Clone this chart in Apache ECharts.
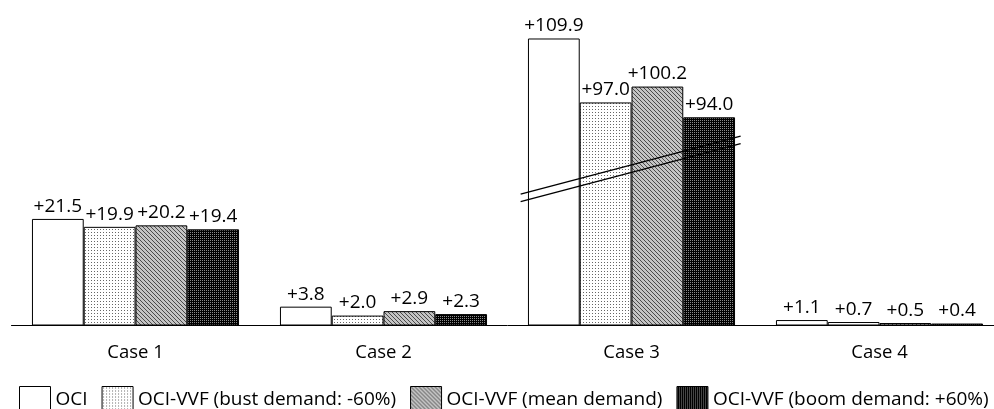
<!DOCTYPE html>
<html><head><meta charset="utf-8">
<script src="https://cdn.jsdelivr.net/npm/echarts@6/dist/echarts.min.js"></script>
<style>html,body{margin:0;padding:0;background:#fff;overflow:hidden;width:994px;height:409px}#c{width:1004px;height:409px}</style>
</head><body><div id="c"></div>
<script>
const categories = ['Case 1', 'Case 2', 'Case 3', 'Case 4'];
const seriesNames = ['OCI', 'OCI-VVF (bust demand: -60%)', 'OCI-VVF (mean demand)', 'OCI-VVF (boom demand: +60%)'];
const ociValues  = [21.5, 3.8, 109.9, 1.1];
const bustValues = [19.9, 2.0, 97.0, 0.7];
const meanValues = [20.2, 2.9, 100.2, 0.5];
const boomValues = [19.4, 2.3, 94.0, 0.4];
const breakStart = 32, breakEnd = 84;

function makePattern(size, bg, pts) {
  const c = document.createElement('canvas');
  c.width = size; c.height = size;
  const g = c.getContext('2d');
  g.fillStyle = bg; g.fillRect(0, 0, size, size);
  pts.forEach(p => { g.fillStyle = p[2]; g.fillRect(p[0], p[1], 1, 1); });
  return c;
}
const fills = [
  '#ffffff',
  { image: makePattern(3, '#ffffff', [[1, 1, '#666666']]), repeat: 'repeat' },
  { image: makePattern(4, '#c4c4c4', [[0, 0, '#4a4a4a'], [1, 1, '#4a4a4a'], [2, 2, '#4a4a4a'], [3, 3, '#4a4a4a']]), repeat: 'repeat' },
  { image: makePattern(2, '#000000', [[0, 0, '#8a8a8a']]), repeat: 'repeat' }
];
const FONT = '"Open Sans", sans-serif';
const allValues = [ociValues, bustValues, meanValues, boomValues];

const chart = echarts.init(document.getElementById('c'), null, { renderer: 'canvas' });
const option = {
  animation: false,
  backgroundColor: '#fff',
  textStyle: { fontFamily: FONT, color: '#000' },
  grid: { left: 11.5, top: 38, width: 992, height: 287.5, containLabel: false },
  legend: {
    left: 19, top: 386, padding: 0, width: 990, itemWidth: 31, itemHeight: 26, itemGap: 14, icon: 'rect',
    textStyle: { fontFamily: FONT, fontSize: 19, color: '#000' },
    itemStyle: { borderColor: '#000', borderWidth: 1 },
    data: seriesNames
  },
  xAxis: {
    type: 'category', data: categories,
    axisLine: { lineStyle: { color: '#000', width: 1 } },
    axisTick: { show: false },
    axisLabel: { fontFamily: FONT, fontSize: 18.5, color: '#000', margin: 18 }
  },
  yAxis: {
    type: 'value', min: 0, max: 110,
    breaks: [{ start: breakStart, end: breakEnd, gap: 0 }],
    breakArea: { show: false, itemStyle: { opacity: 0, color: 'transparent', borderColor: 'transparent' } },
    axisLine: { show: false }, axisTick: { show: false }, axisLabel: { show: false }, splitLine: { show: false }
  },
  series: seriesNames.map((name, i) => ({
    name, type: 'bar', data: allValues[i],
    barGap: '0%', barCategoryGap: '16.5%',
    itemStyle: { color: fills[i], borderColor: '#000', borderWidth: 1 },
    label: {
      show: true, position: 'top', distance: 3,
      fontFamily: FONT, fontSize: 19, color: '#000',
      formatter: p => '+' + p.value.toFixed(1)
    }
  }))
};
chart.setOption(option);

// break marks across Case 3
const cx = chart.convertToPixel({ xAxisIndex: 0 }, 'Case 3');
const band = 992 / categories.length;
const xL = cx - 0.447 * band, xR = cx + 0.44 * band;
const yL = chart.convertToPixel({ yAxisIndex: 0 }, 26.5);
const yR = chart.convertToPixel({ yAxisIndex: 0 }, 90.2);
chart.setOption({
  graphic: [0, 7.5].map(off => ({
    type: 'line', z: 100,
    shape: { x1: xL, y1: yL + off, x2: xR, y2: yR + off },
    style: { stroke: '#000', lineWidth: 1.5 }
  }))
});
</script></body></html>
